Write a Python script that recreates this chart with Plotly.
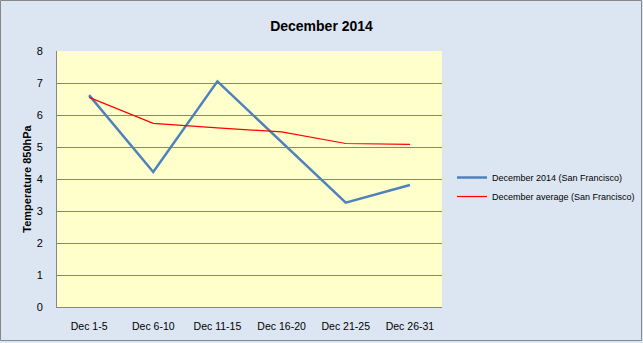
import plotly.graph_objects as go

periods = ["Dec 1-5", "Dec 6-10", "Dec 11-15", "Dec 16-20", "Dec 21-25", "Dec 26-31"]
temp_2014 = [6.62, 4.22, 7.05, 5.15, 3.26, 3.81]
temp_avg = [6.55, 5.74, 5.6, 5.47, 5.11, 5.08]

W, H = 643, 343
L, R, T, B = 57, 201, 51, 36
pw, ph = W - L - R, H - T - B

def px(x):
    return (x - L) / pw

def py(y):
    return (H - B - y) / ph

fig = go.Figure()
fig.add_trace(go.Scatter(
    x=periods, y=temp_2014, mode="lines", name="December 2014 (San Francisco)",
    line=dict(color="#4F81BD", width=2.5),
))
fig.add_trace(go.Scatter(
    x=periods, y=temp_avg, mode="lines", name="December average (San Francisco)",
    line=dict(color="#FF0000", width=1.2),
))

fig.update_layout(
    width=W, height=H,
    margin=dict(l=L, r=R, t=T, b=B, autoexpand=False),
    paper_bgcolor="#DCE6F2",
    plot_bgcolor="#FFFFCC",
    font=dict(family="Liberation Sans", size=11, color="#000000"),
    title=dict(text="<b>December 2014</b>", x=0.5, xanchor="center", y=1 - 26 / H, yanchor="middle",
               font=dict(size=14, color="#000000")),
    showlegend=True,
    legend=dict(xref="container", yref="container", x=452 / W, y=1 - 187 / H,
                xanchor="left", yanchor="middle",
                bgcolor="rgba(0,0,0,0)", font=dict(size=9, color="#000000"),
                tracegroupgap=6),
    xaxis=dict(range=[-0.5, 5.5], showgrid=False, showline=True, linecolor="#868686",
               linewidth=1, ticks="", tickfont=dict(size=10.5), ticklabelstandoff=9,
               fixedrange=True),
    yaxis=dict(range=[0, 8], dtick=1, showgrid=True, gridcolor="#868686", gridwidth=1,
               showline=True, linecolor="#868686", linewidth=1, zeroline=False,
               ticks="", tickfont=dict(size=11), ticklabelstandoff=11,
               title=dict(text="<b>Temperature 850hPa</b>", font=dict(size=11), standoff=2)),
    shapes=[dict(type="rect", xref="paper", yref="paper",
                 x0=px(0.5), x1=px(W - 1.5), y0=py(H - 2.5), y1=py(0.5),
                 line=dict(color="#868686", width=1), fillcolor="rgba(0,0,0,0)", layer="below")],
)

fig.write_html("out.html")
